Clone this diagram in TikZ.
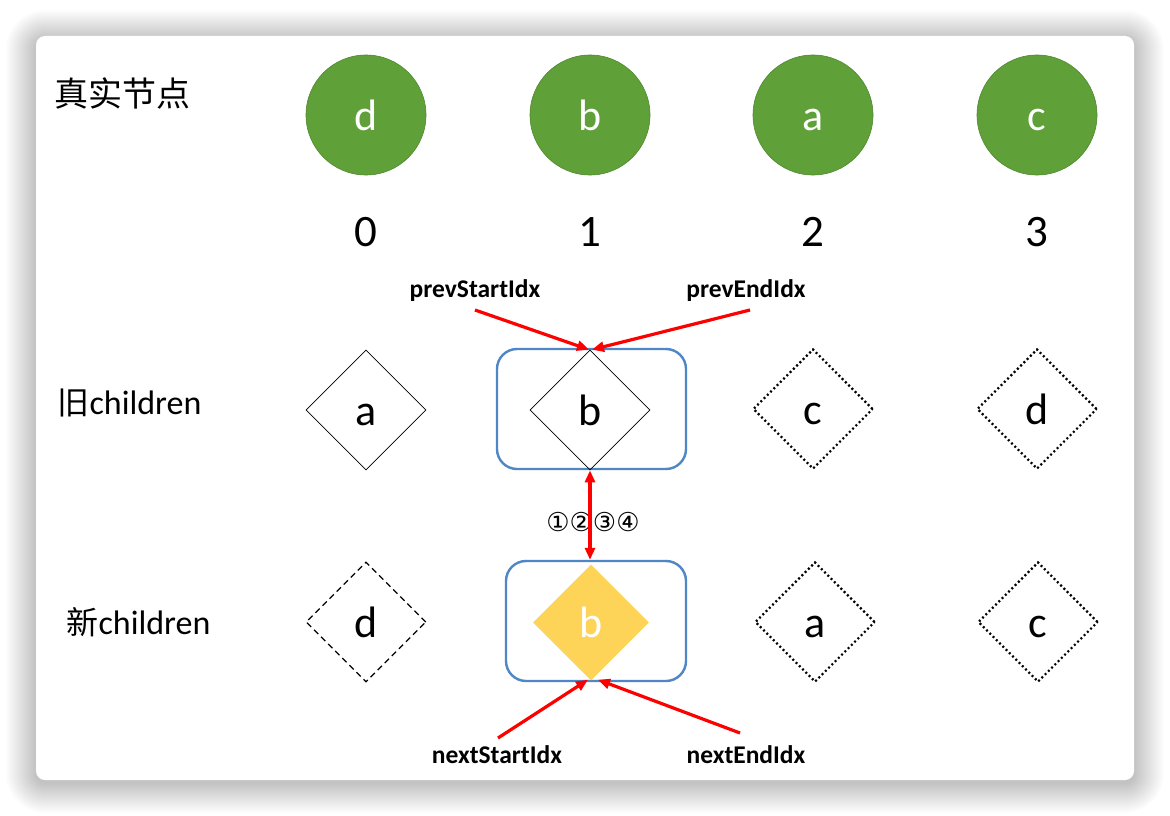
\documentclass[tikz,border=0pt]{standalone}
\usepackage{fontspec}
\setmainfont{Carlito}
\newfontfamily\cjkfont{Noto Sans CJK SC}
\newfontfamily\symfont{DejaVu Sans}
\usetikzlibrary{shapes.geometric,arrows.meta}
\definecolor{leafgreen}{RGB}{95,160,57}
\definecolor{leafedge}{RGB}{80,135,48}
\definecolor{boxblue}{RGB}{79,134,198}
\definecolor{hityellow}{RGB}{253,212,88}
\tikzset{
  glyphbox/.style={text height=34pt,text depth=4pt},
  real/.style={circle,minimum size=120pt,inner sep=0pt,fill=leafgreen,draw=leafedge,line width=0.6pt,
    text=white,font=\fontsize{44}{46}\selectfont,glyphbox},
  idx/.style={font=\fontsize{45}{47}\selectfont,glyphbox},
  vnode/.style={diamond,aspect=1,minimum width=120pt,minimum height=120pt,inner sep=0pt,
    font=\fontsize{44}{46}\selectfont,glyphbox},
  solidv/.style={vnode,draw=black,line width=0.7pt},
  dotv/.style={vnode,draw=black,line width=2.2pt,dash pattern=on 2pt off 2.6pt},
  dashv/.style={vnode,draw=black,line width=1.2pt,dash pattern=on 6pt off 4pt},
  hitv/.style={vnode,fill=hityellow,text=white,minimum width=116pt,minimum height=116pt},
  pickbox/.style={draw=boxblue,line width=2.4pt,rounded corners=20pt},
  rowlabel/.style={anchor=west,font=\fontsize{34}{36}\selectfont},
  ptrlabel/.style={font=\bfseries\fontsize{25.5}{27}\selectfont},
  ptr/.style={red,line width=3.2pt,-{Triangle[length=12pt,width=10pt]}},
}
\begin{document}
\begin{tikzpicture}[x=1pt,y=-1pt]
\useasboundingbox (0,0) rectangle (1170,816);
\fill[white] (0,0) rectangle (1170,816);
% soft shadow under the card, built from stacked translucent layers
\foreach \i in {1,...,30}{
  \fill[black,opacity=0.009,rounded corners={9pt+\i pt}]
    (36-\i,36-\i+4) rectangle (1134+\i,780+\i+3);
}
% card
\fill[white,rounded corners=9pt] (36,36) rectangle (1134,780);

% row labels
\node[anchor=west,font=\cjkfont\fontsize{34}{36}\selectfont] (lreal) at (51,93) {真实节点};
\node[rowlabel] (lold) at (54,403) {{\cjkfont\fontsize{32}{34}\selectfont 旧}children};
\node[rowlabel] (lnew) at (63,622) {{\cjkfont\fontsize{32}{34}\selectfont 新}children};

% real nodes and their indices
\node[real] (r0) at (366,115) {d};
\node[real] (r1) at (590,115) {b};
\node[real] (r2) at (813,115) {a};
\node[real] (r3) at (1037,115) {c};
\node[idx] (i0) at (366,231) {0};
\node[idx] (i1) at (590,231) {1};
\node[idx] (i2) at (813,231) {2};
\node[idx] (i3) at (1037,231) {3};

% old children
\node[pickbox,minimum width=189pt,minimum height=120pt] (obox) at (591.5,409) {};
\node[solidv] (oa) at (366,410) {a};
\node[solidv] (ob) at (590,410) {b};
\node[dotv] (oc) at (813,409) {c};
\node[dotv] (od) at (1037,409) {d};

% new children
\node[pickbox,minimum width=180pt,minimum height=120pt] (nbox) at (596,621) {};
\node[dashv] (nd) at (366,622) {d};
\node[hitv] (nb) at (591,622.5) {b};
\node[dotv] (na) at (815,622) {a};
\node[dotv] (nc) at (1038,622) {c};

% pointer labels
\node[ptrlabel] (pstart) at (475,291) {prevStartIdx};
\node[ptrlabel] (pend) at (746,291) {prevEndIdx};
\node[ptrlabel] (nstart) at (497,755) {nextStartIdx};
\node[ptrlabel] (nend) at (746,755) {nextEndIdx};
\node[font=\symfont\fontsize{26}{28}\selectfont] (steps) at (593,522) {①②③④};

\coordinate (pstartT) at (475,310);
\coordinate (pendT) at (750,310);
\coordinate (nstartT) at (498,738);
\coordinate (nendT) at (740,733);

% pointer arrows
\draw[ptr] (pstartT) -- ([xshift=-1pt]ob.north);
\draw[ptr] (pendT) -- ([xshift=2pt]ob.north);
\draw[ptr] (nstartT) -- ([xshift=-3pt,yshift=1pt]nb.south);
\draw[ptr] (nendT) -- ([xshift=7pt,yshift=1pt]nb.south);
\draw[red,line width=3.2pt,{Triangle[length=12pt,width=10pt]}-{Triangle[length=12pt,width=10pt]}]
  (ob.south) -- (ob.south |- nbox.north);
\end{tikzpicture}
\end{document}
